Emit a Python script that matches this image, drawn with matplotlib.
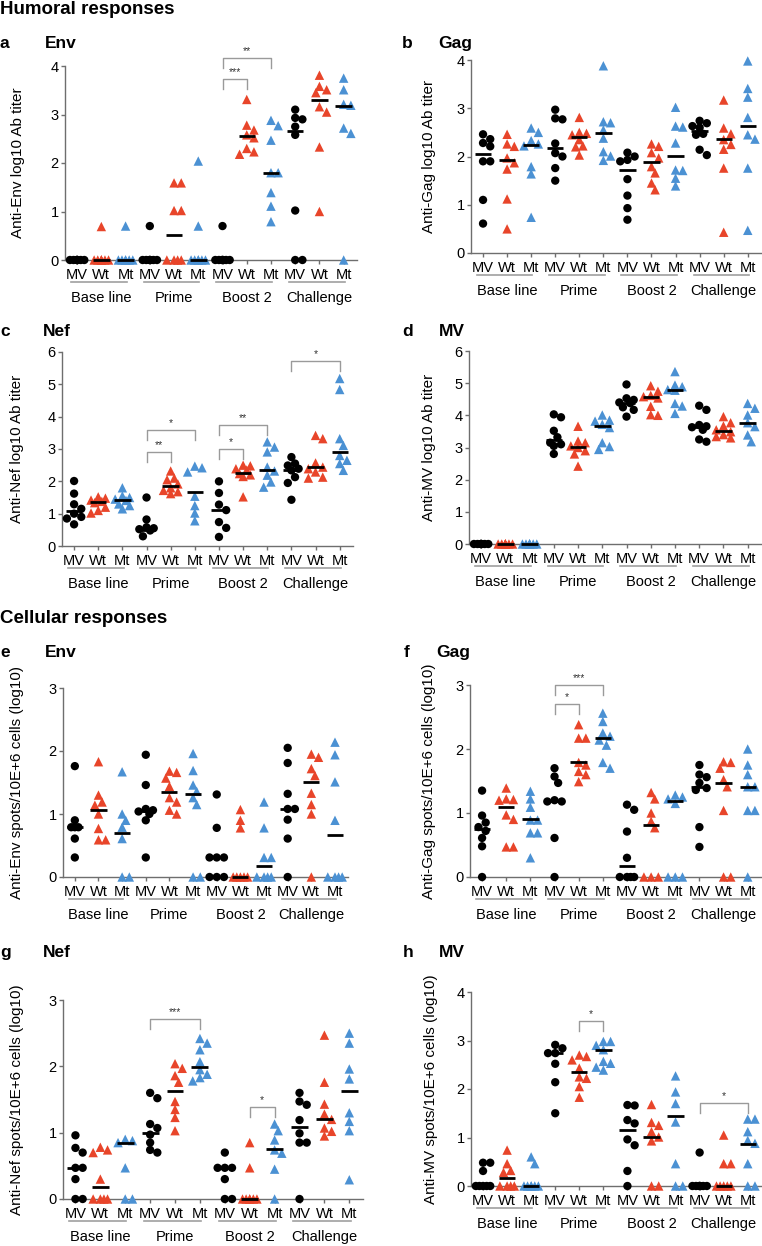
import matplotlib
matplotlib.use('Agg')
import matplotlib.pyplot as plt
import numpy as np
from matplotlib import transforms

plt.rcParams['font.family'] = ['Liberation Sans', 'DejaVu Sans']

# categories
groups = ['Base line', 'Prime', 'Boost 2', 'Challenge']
vaccines = ['MV', 'Wt', 'Mt']

# a: anti-Env antibody titer (log10)
env_ab = [
    [0, 0, 0, 0, 0, 0, 0, 0],
    [0.69, 0, 0, 0, 0, 0, 0, 0],
    [0.70, 0, 0, 0, 0, 0, 0],
    [0.70, 0, 0, 0, 0, 0, 0, 0],
    [1.59, 1.59, 1.02, 1.02, 0, 0, 0, 0],
    [2.04, 0.70, 0, 0, 0, 0, 0, 0],
    [0.70, 0, 0, 0, 0, 0, 0, 0],
    [3.31, 2.78, 2.68, 2.58, 2.52, 2.30, 2.23, 2.18],
    [2.88, 2.77, 2.47, 1.80, 1.80, 1.39, 1.11, 0.79],
    [3.10, 2.93, 2.90, 2.75, 2.58, 1.02, 0, 0],
    [3.81, 3.58, 3.51, 3.45, 3.16, 3.05, 2.33, 1.00],
    [3.75, 3.51, 3.21, 3.19, 2.72, 2.61, 0],
]
env_ab_med = [0, 0, 0, 0, 0.51, 0, 0, 2.55, 1.80, 2.66, 3.30, 3.18]
env_ab_sig = [(6, 7, 3.74, '***'), (6, 8, 4.17, '**')]

# b: anti-Gag antibody titer
gag_ab = [
    [2.46, 2.36, 2.28, 2.21, 1.90, 1.90, 1.10, 0.61],
    [2.46, 2.26, 2.21, 1.97, 1.87, 1.74, 1.12, 0.50],
    [2.59, 2.50, 2.33, 2.26, 2.22, 1.79, 1.64, 0.74],
    [2.97, 2.79, 2.77, 2.27, 2.07, 2.00, 1.76, 1.50],
    [2.81, 2.50, 2.48, 2.45, 2.35, 2.22, 2.20, 2.03],
    [3.88, 2.72, 2.70, 2.55, 2.38, 2.10, 2.01, 1.92],
    [2.08, 2.00, 1.93, 1.90, 1.53, 1.19, 0.93, 0.69],
    [2.26, 2.21, 2.08, 1.97, 1.79, 1.66, 1.45, 1.31],
    [3.02, 2.63, 2.61, 2.28, 1.72, 1.71, 1.55, 1.39],
    [2.74, 2.69, 2.63, 2.60, 2.47, 2.45, 2.14, 2.03],
    [3.17, 2.59, 2.47, 2.35, 2.25, 2.15, 1.76, 0.43],
    [3.98, 3.41, 3.23, 2.81, 2.45, 2.36, 1.76, 0.47],
]
gag_ab_med = [2.05, 1.92, 2.24, 2.17, 2.40, 2.48, 1.72, 1.88, 2.01, 2.53, 2.36, 2.63]
gag_ab_sig = []

# c: anti-Nef antibody titer
nef_ab = [
    [2.01, 1.62, 1.29, 1.15, 1.00, 0.90, 0.85, 0.67],
    [1.52, 1.48, 1.42, 1.38, 1.34, 1.20, 1.10, 1.02],
    [1.80, 1.55, 1.50, 1.45, 1.41, 1.30, 1.25, 1.15],
    [1.50, 0.82, 0.58, 0.55, 0.52, 0.48, 0.30],
    [2.32, 2.10, 2.05, 1.92, 1.80, 1.72, 1.68, 1.62],
    [2.47, 2.42, 2.29, 1.54, 1.25, 1.02, 0.78],
    [2.00, 1.64, 1.28, 1.11, 0.74, 0.56, 0.28],
    [2.50, 2.48, 2.39, 2.35, 2.24, 2.20, 2.15, 1.52],
    [3.22, 3.06, 2.91, 2.44, 2.32, 2.19, 1.98, 1.82],
    [2.75, 2.55, 2.49, 2.39, 2.34, 2.13, 1.95, 1.43],
    [3.42, 3.32, 2.57, 2.44, 2.39, 2.29, 2.13, 2.10],
    [5.18, 4.84, 3.32, 3.11, 2.80, 2.65, 2.55, 2.34],
]
nef_ab_med = [1.07, 1.36, 1.43, 0.50, 1.85, 1.67, 1.11, 2.26, 2.36, 2.34, 2.44, 2.91]
nef_ab_sig = [(3, 4, 2.91, '**'), (3, 5, 3.60, '*'), (6, 7, 2.99, '*'),
              (6, 8, 3.73, '**'), (9, 11, 5.71, '*')]

# d: anti-MV antibody titer
mv_ab = [
    [0, 0, 0, 0, 0, 0, 0, 0],
    [0, 0, 0, 0, 0, 0, 0, 0],
    [0, 0, 0, 0, 0, 0, 0, 0],
    [4.03, 3.94, 3.52, 3.32, 3.15, 3.10, 3.05, 2.80],
    [3.66, 3.20, 3.15, 3.05, 3.00, 2.90, 2.80, 2.42],
    [4.01, 3.85, 3.82, 3.72, 3.62, 3.15, 3.03, 2.94],
    [4.96, 4.53, 4.48, 4.40, 4.38, 4.25, 4.17, 3.96],
    [4.92, 4.75, 4.62, 4.58, 4.54, 4.28, 4.02, 4.00],
    [5.36, 4.94, 4.89, 4.80, 4.78, 4.37, 4.29, 4.06],
    [4.30, 4.17, 3.70, 3.66, 3.63, 3.55, 3.25, 3.18],
    [3.96, 3.77, 3.67, 3.55, 3.49, 3.40, 3.34, 3.30],
    [4.37, 4.22, 4.01, 3.77, 3.65, 3.39, 3.18],
]
mv_ab_med = [0, 0, 0, 3.23, 3.03, 3.67, 4.39, 4.56, 4.79, 3.65, 3.52, 3.75]
mv_ab_sig = []

# e: anti-Env spots
env_cell = [
    [1.76, 0.90, 0.79, 0.79, 0.79, 0.61, 0.31],
    [1.83, 1.30, 1.19, 1.14, 1.00, 0.77, 0.59, 0.59],
    [1.67, 1.00, 0.90, 0.79, 0.61, 0, 0],
    [1.94, 1.46, 1.08, 1.06, 1.04, 1.00, 0.90, 0.31],
    [1.68, 1.66, 1.57, 1.44, 1.26, 1.19, 1.06, 1.00],
    [1.96, 1.69, 1.46, 1.36, 1.26, 1.15, 0, 0],
    [1.31, 0.78, 0.31, 0.31, 0.31, 0, 0, 0],
    [1.07, 0.90, 0.78, 0, 0, 0, 0, 0],
    [1.19, 0.78, 0.31, 0.31, 0, 0, 0, 0],
    [2.05, 1.81, 1.32, 1.08, 1.08, 0.91, 0.61, 0],
    [1.95, 1.90, 1.72, 1.61, 1.33, 1.15, 1.00, 0],
    [2.14, 1.94, 1.51, 0.90, 0, 0, 0, 0],
]
env_cell_med = [0.79, 1.07, 0.70, 1.05, 1.35, 1.31, 0.31, 0.0, 0.18, 1.08, 1.51, 0.66]
env_cell_sig = []

# f: anti-Gag spots
gag_cell = [
    [1.35, 0.96, 0.85, 0.78, 0.72, 0.61, 0.48, 0],
    [1.39, 1.22, 1.21, 1.20, 0.97, 0.90, 0.47, 0.47],
    [1.34, 1.22, 1.09, 0.89, 0.89, 0.69, 0.69, 0.30],
    [1.70, 1.57, 1.47, 1.20, 1.18, 1.18, 0.61, 0],
    [2.38, 2.17, 2.17, 1.79, 1.75, 1.65, 1.60, 1.49],
    [2.56, 2.43, 2.25, 2.20, 2.14, 2.06, 1.79, 1.70],
    [1.13, 1.05, 0.71, 0.30, 0, 0, 0, 0],
    [1.32, 1.22, 1.00, 0.87, 0.77, 0, 0, 0],
    [1.28, 1.25, 1.22, 1.15, 0, 0, 0],
    [1.75, 1.60, 1.56, 1.47, 1.39, 1.36, 0.78, 0.47],
    [1.80, 1.79, 1.70, 1.52, 1.41, 1.04, 0, 0],
    [2.00, 1.75, 1.60, 1.41, 1.41, 1.04, 1.04, 0],
]
gag_cell_med = [0.75, 1.10, 0.90, 1.18, 1.79, 2.17, 0.17, 0.81, 1.19, 1.40, 1.47, 1.41]
gag_cell_sig = [(3, 4, 2.70, '*'), (3, 5, 3.00, '***')]

# g: anti-Nef spots
nef_cell = [
    [0.96, 0.77, 0.70, 0.47, 0.47, 0.30, 0, 0],
    [0.78, 0.74, 0.70, 0.30, 0, 0, 0, 0],
    [0.90, 0.88, 0.85, 0.47, 0, 0],
    [1.60, 1.52, 1.13, 1.07, 0.97, 0.85, 0.74, 0.70],
    [2.04, 1.97, 1.86, 1.76, 1.47, 1.35, 1.23, 1.03],
    [2.42, 2.35, 2.25, 2.07, 1.95, 1.88, 1.83, 1.78],
    [0.70, 0.47, 0.47, 0.47, 0.30, 0, 0],
    [0.85, 0.47, 0, 0, 0, 0, 0, 0],
    [1.13, 1.03, 0.89, 0.74, 0.69, 0.45, 0],
    [1.60, 1.47, 1.42, 1.19, 0.99, 0.85, 0.85, 0],
    [2.47, 1.76, 1.43, 1.28, 1.20, 1.07, 1.02, 0.95],
    [2.50, 2.35, 1.96, 1.81, 1.30, 1.17, 1.03, 0.29],
]
nef_cell_med = [0.47, 0.18, 0.85, 1.00, 1.63, 1.99, 0.47, 0.0, 0.75, 1.08, 1.21, 1.63]
nef_cell_sig = [(3, 5, 2.71, '***'), (7, 8, 1.38, '*')]

# h: anti-MV spots
mv_cell = [
    [0.48, 0.48, 0.31, 0, 0, 0, 0, 0],
    [0.74, 0.46, 0.32, 0.28, 0, 0, 0, 0],
    [0.60, 0.46, 0, 0, 0, 0, 0, 0],
    [2.91, 2.84, 2.74, 2.74, 2.52, 2.14, 1.50],
    [2.70, 2.67, 2.60, 2.43, 2.25, 2.22, 2.05, 1.83],
    [2.98, 2.98, 2.90, 2.81, 2.57, 2.53, 2.45, 2.39],
    [1.67, 1.66, 1.36, 1.29, 0.96, 0.84, 0.31, 0],
    [1.68, 1.31, 1.25, 1.12, 1.01, 0.93, 0, 0],
    [2.27, 1.94, 1.70, 1.32, 0.46, 0, 0],
    [0.69, 0, 0, 0, 0, 0, 0, 0],
    [1.05, 0.46, 0.46, 0, 0, 0, 0, 0],
    [1.38, 1.38, 1.12, 0.94, 0.88, 0.46, 0, 0],
]
mv_cell_med = [0, 0.17, 0, 2.74, 2.35, 2.81, 1.15, 1.01, 1.44, 0, 0, 0.87]
mv_cell_sig = [(4, 5, 3.41, '*'), (9, 11, 1.72, '*')]

W, H = 762, 1246
COLORS = ['black', '#e8452a', '#4b91d3']
MARKERS = ['o', '^', '^']
AXC = '#6e6e6e'


def swarm(vals, sx, sy, diam=7.2, maxw=10.0):
    # simple beeswarm offsets, computed in pixel space
    vals = np.asarray(vals, float)
    offs = np.zeros(len(vals))
    step = diam * 0.5
    cands = [0.0]
    k = 1
    while k * step <= maxw:
        cands += [k * step, -k * step]
        k += 1
    placed = []
    for i in np.argsort(-vals, kind='stable'):
        y = vals[i] * sy
        best, bestd = 0.0, -1.0
        for c in cands:
            d = min([np.hypot(c - px, y - py) for px, py in placed], default=1e9)
            if d >= diam:
                best = c
                break
            if d > bestd:
                best, bestd = c, d
        placed.append((best, y))
        offs[i] = best
    return offs / sx


def draw_panel(fig, rect, data, med, sig, ytop, ylabel, ylab_x):
    l, t, r, b = rect
    ax = fig.add_axes([l / W, 1 - b / H, (r - l) / W, (b - t) / H])
    x0, x1 = -0.5, 11.55
    ax.set_xlim(x0, x1)
    ax.set_ylim(0, ytop)
    sx = (r - l) / (x1 - x0)
    sy = (b - t) / ytop

    for k, vals in enumerate(data):
        v = k % 3
        xs = k + swarm(vals, sx, sy)
        ax.scatter(xs, vals, s=36 if v == 0 else 46, marker=MARKERS[v],
                   color=COLORS[v], edgecolors='none', zorder=3, clip_on=False)
        ax.plot([k - 0.34, k + 0.34], [med[k], med[k]], color='black',
                lw=2.0, zorder=4, solid_capstyle='butt', clip_on=False)

    leg = 10 / sy
    for i, j, top, lab in sig:
        ax.plot([i, i, j, j], [top - leg, top, top, top - leg], color='#9a9a9a',
                lw=1.0, clip_on=False)
        ax.text((i + j) / 2, top + 2 / sy, lab, ha='center', va='bottom',
                fontsize=7.5, color='#333333', clip_on=False)

    for s in ['top', 'right']:
        ax.spines[s].set_visible(False)
    for s in ['left', 'bottom']:
        ax.spines[s].set_color(AXC)
        ax.spines[s].set_linewidth(1.0)
    ax.set_yticks(range(0, ytop + 1))
    ax.set_xticks(range(12))
    ax.set_xticklabels(vaccines * 4)
    ax.tick_params(axis='both', colors=AXC, labelcolor='black', length=3,
                   width=1.0, labelsize=10.5)
    ax.tick_params(axis='x', pad=2.5)
    ax.tick_params(axis='y', pad=1.5)

    tl = transforms.offset_copy(ax.get_xaxis_transform(), fig=fig, y=-16, units='points')
    tt = transforms.offset_copy(ax.get_xaxis_transform(), fig=fig, y=-27.5, units='points')
    for g, name in enumerate(groups):
        ax.plot([3 * g - 0.25, 3 * g + 2.05], [0, 0], transform=tl,
                color='#a0a0a0', lw=1.2, clip_on=False)
        ax.text(3 * g + 1, 0, name, transform=tt, ha='center', va='center',
                fontsize=10.5)

    fig.text(ylab_x / W, 1 - (t + b) / 2 / H, ylabel, rotation=90,
             ha='center', va='center', fontsize=11)
    return ax


fig = plt.figure(figsize=(W / 100, H / 100), dpi=100)

fig.text(0.5 / W, 1 - 13.5 / H, 'Humoral responses', fontsize=13.5,
         fontweight='bold', va='baseline')
fig.text(0.5 / W, 1 - 623 / H, 'Cellular responses', fontsize=13.5,
         fontweight='bold', va='baseline')

panels = [
    ('a', 'Env', (0, 45, 48), (65, 66, 357, 260), env_ab, env_ab_med, env_ab_sig, 4,
     'Anti-Env log10 Ab titer', 18),
    ('b', 'Gag', (402, 438, 48), (471, 60, 761, 253), gag_ab, gag_ab_med, gag_ab_sig, 4,
     'Anti-Gag log10 Ab titer', 429),
    ('c', 'Nef', (0, 43, 336), (62, 352, 353, 546), nef_ab, nef_ab_med, nef_ab_sig, 6,
     'Anti-Nef log10 Ab titer', 17),
    ('d', 'MV', (402, 439, 336), (469, 351, 761, 544), mv_ab, mv_ab_med, mv_ab_sig, 6,
     'Anti-MV log10 Ab titer', 429),
    ('e', 'Env', (0, 45, 657), (63, 688, 348, 877), env_cell, env_cell_med, env_cell_sig, 3,
     'Anti-Env spots/10E+6 cells (log10)', 17),
    ('f', 'Gag', (404, 436, 657), (470, 685, 761, 877), gag_cell, gag_cell_med, gag_cell_sig, 3,
     'Anti-Gag spots/10E+6 cells (log10)', 429),
    ('g', 'Nef', (0, 43, 957), (63, 1000, 363, 1199), nef_cell, nef_cell_med, nef_cell_sig, 3,
     'Anti-Nef spots/10E+6 cells (log10)', 17),
    ('h', 'MV', (403, 439, 957), (471, 992, 761, 1186), mv_cell, mv_cell_med, mv_cell_sig, 4,
     'Anti-MV spots/10E+6 cells (log10)', 431),
]

for letter, title, tpos, rect, data, med, sig, ytop, ylabel, ylx in panels:
    draw_panel(fig, rect, data, med, sig, ytop, ylabel, ylx)
    fig.text(tpos[0] / W, 1 - tpos[2] / H, letter, fontsize=12.5,
             fontweight='bold', va='baseline')
    fig.text(tpos[1] / W, 1 - tpos[2] / H, title, fontsize=12.5,
             fontweight='bold', va='baseline')

fig.savefig('out.png', dpi=100)
